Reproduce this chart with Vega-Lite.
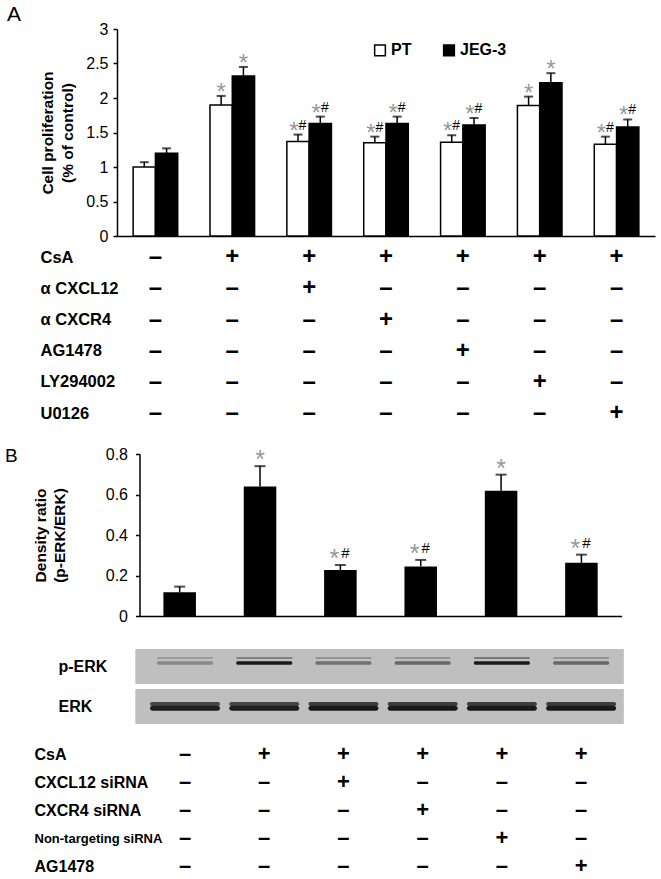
{
  "$schema": "https://vega.github.io/schema/vega-lite/v6.json",
  "padding": {"left": 5, "top": 4, "right": 5, "bottom": 0},
  "bounds": "flush",
  "spacing": 0,
  "config": {
    "view": {"stroke": null},
    "font": "Liberation Sans",
    "axis": {"grid": false, "labelOverlap": false, "domainColor": "black", "tickColor": "black", "labelColor": "black", "titleColor": "black", "labelFont": "Liberation Sans", "titleFont": "Liberation Sans"}
  },
  "resolve": {"scale": {"x": "independent", "y": "independent", "xOffset": "independent", "fill": "independent", "opacity": "independent"}},
  "datasets": {
    "A": [
      {"grp": "1", "cell": "PT", "value": 1.00, "err": 1.07, "star": "", "hash": ""},
      {"grp": "1", "cell": "JEG-3", "value": 1.20, "err": 1.27, "star": "", "hash": ""},
      {"grp": "2", "cell": "PT", "value": 1.90, "err": 2.03, "star": "*", "hash": ""},
      {"grp": "2", "cell": "JEG-3", "value": 2.32, "err": 2.45, "star": "*", "hash": ""},
      {"grp": "3", "cell": "PT", "value": 1.37, "err": 1.47, "star": "*", "hash": "#"},
      {"grp": "3", "cell": "JEG-3", "value": 1.63, "err": 1.73, "star": "*", "hash": "#"},
      {"grp": "4", "cell": "PT", "value": 1.35, "err": 1.44, "star": "*", "hash": "#"},
      {"grp": "4", "cell": "JEG-3", "value": 1.63, "err": 1.73, "star": "*", "hash": "#"},
      {"grp": "5", "cell": "PT", "value": 1.36, "err": 1.46, "star": "*", "hash": "#"},
      {"grp": "5", "cell": "JEG-3", "value": 1.61, "err": 1.71, "star": "*", "hash": "#"},
      {"grp": "6", "cell": "PT", "value": 1.89, "err": 2.02, "star": "*", "hash": ""},
      {"grp": "6", "cell": "JEG-3", "value": 2.22, "err": 2.36, "star": "*", "hash": ""},
      {"grp": "7", "cell": "PT", "value": 1.33, "err": 1.44, "star": "*", "hash": "#"},
      {"grp": "7", "cell": "JEG-3", "value": 1.58, "err": 1.69, "star": "*", "hash": "#"}
    ],
    "TA": [
      {"row": "CsA", "grp": "1", "sign": "–"}, {"row": "CsA", "grp": "2", "sign": "+"}, {"row": "CsA", "grp": "3", "sign": "+"}, {"row": "CsA", "grp": "4", "sign": "+"}, {"row": "CsA", "grp": "5", "sign": "+"}, {"row": "CsA", "grp": "6", "sign": "+"}, {"row": "CsA", "grp": "7", "sign": "+"},
      {"row": "α CXCL12", "grp": "1", "sign": "–"}, {"row": "α CXCL12", "grp": "2", "sign": "–"}, {"row": "α CXCL12", "grp": "3", "sign": "+"}, {"row": "α CXCL12", "grp": "4", "sign": "–"}, {"row": "α CXCL12", "grp": "5", "sign": "–"}, {"row": "α CXCL12", "grp": "6", "sign": "–"}, {"row": "α CXCL12", "grp": "7", "sign": "–"},
      {"row": "α CXCR4", "grp": "1", "sign": "–"}, {"row": "α CXCR4", "grp": "2", "sign": "–"}, {"row": "α CXCR4", "grp": "3", "sign": "–"}, {"row": "α CXCR4", "grp": "4", "sign": "+"}, {"row": "α CXCR4", "grp": "5", "sign": "–"}, {"row": "α CXCR4", "grp": "6", "sign": "–"}, {"row": "α CXCR4", "grp": "7", "sign": "–"},
      {"row": "AG1478", "grp": "1", "sign": "–"}, {"row": "AG1478", "grp": "2", "sign": "–"}, {"row": "AG1478", "grp": "3", "sign": "–"}, {"row": "AG1478", "grp": "4", "sign": "–"}, {"row": "AG1478", "grp": "5", "sign": "+"}, {"row": "AG1478", "grp": "6", "sign": "–"}, {"row": "AG1478", "grp": "7", "sign": "–"},
      {"row": "LY294002", "grp": "1", "sign": "–"}, {"row": "LY294002", "grp": "2", "sign": "–"}, {"row": "LY294002", "grp": "3", "sign": "–"}, {"row": "LY294002", "grp": "4", "sign": "–"}, {"row": "LY294002", "grp": "5", "sign": "–"}, {"row": "LY294002", "grp": "6", "sign": "+"}, {"row": "LY294002", "grp": "7", "sign": "–"},
      {"row": "U0126", "grp": "1", "sign": "–"}, {"row": "U0126", "grp": "2", "sign": "–"}, {"row": "U0126", "grp": "3", "sign": "–"}, {"row": "U0126", "grp": "4", "sign": "–"}, {"row": "U0126", "grp": "5", "sign": "–"}, {"row": "U0126", "grp": "6", "sign": "–"}, {"row": "U0126", "grp": "7", "sign": "+"}
    ],
    "B": [
      {"lane": "1", "value": 0.117, "err": 0.145, "star": "", "hash": ""},
      {"lane": "2", "value": 0.64, "err": 0.74, "star": "*", "hash": ""},
      {"lane": "3", "value": 0.227, "err": 0.252, "star": "*", "hash": "#"},
      {"lane": "4", "value": 0.245, "err": 0.277, "star": "*", "hash": "#"},
      {"lane": "5", "value": 0.619, "err": 0.698, "star": "*", "hash": ""},
      {"lane": "6", "value": 0.263, "err": 0.303, "star": "*", "hash": "#"}
    ],
    "BLOT": [
      {"blot": "p-ERK", "lane": 1, "sub": "upper", "intensity": 0.2}, {"blot": "p-ERK", "lane": 1, "sub": "lower", "intensity": 0.3},
      {"blot": "p-ERK", "lane": 2, "sub": "upper", "intensity": 0.35}, {"blot": "p-ERK", "lane": 2, "sub": "lower", "intensity": 0.95},
      {"blot": "p-ERK", "lane": 3, "sub": "upper", "intensity": 0.25}, {"blot": "p-ERK", "lane": 3, "sub": "lower", "intensity": 0.45},
      {"blot": "p-ERK", "lane": 4, "sub": "upper", "intensity": 0.25}, {"blot": "p-ERK", "lane": 4, "sub": "lower", "intensity": 0.5},
      {"blot": "p-ERK", "lane": 5, "sub": "upper", "intensity": 0.4}, {"blot": "p-ERK", "lane": 5, "sub": "lower", "intensity": 0.95},
      {"blot": "p-ERK", "lane": 6, "sub": "upper", "intensity": 0.25}, {"blot": "p-ERK", "lane": 6, "sub": "lower", "intensity": 0.5},
      {"blot": "ERK", "lane": 1, "sub": "upper", "intensity": 0.7}, {"blot": "ERK", "lane": 1, "sub": "lower", "intensity": 0.92},
      {"blot": "ERK", "lane": 2, "sub": "upper", "intensity": 0.7}, {"blot": "ERK", "lane": 2, "sub": "lower", "intensity": 0.92},
      {"blot": "ERK", "lane": 3, "sub": "upper", "intensity": 0.75}, {"blot": "ERK", "lane": 3, "sub": "lower", "intensity": 0.95},
      {"blot": "ERK", "lane": 4, "sub": "upper", "intensity": 0.75}, {"blot": "ERK", "lane": 4, "sub": "lower", "intensity": 0.95},
      {"blot": "ERK", "lane": 5, "sub": "upper", "intensity": 0.75}, {"blot": "ERK", "lane": 5, "sub": "lower", "intensity": 0.95},
      {"blot": "ERK", "lane": 6, "sub": "upper", "intensity": 0.75}, {"blot": "ERK", "lane": 6, "sub": "lower", "intensity": 0.95}
    ],
    "BLOTBG": [{"blot": "p-ERK"}, {"blot": "ERK"}],
    "TB": [
      {"row": "CsA", "lane": 1, "sign": "–"}, {"row": "CsA", "lane": 2, "sign": "+"}, {"row": "CsA", "lane": 3, "sign": "+"}, {"row": "CsA", "lane": 4, "sign": "+"}, {"row": "CsA", "lane": 5, "sign": "+"}, {"row": "CsA", "lane": 6, "sign": "+"},
      {"row": "CXCL12 siRNA", "lane": 1, "sign": "–"}, {"row": "CXCL12 siRNA", "lane": 2, "sign": "–"}, {"row": "CXCL12 siRNA", "lane": 3, "sign": "+"}, {"row": "CXCL12 siRNA", "lane": 4, "sign": "–"}, {"row": "CXCL12 siRNA", "lane": 5, "sign": "–"}, {"row": "CXCL12 siRNA", "lane": 6, "sign": "–"},
      {"row": "CXCR4 siRNA", "lane": 1, "sign": "–"}, {"row": "CXCR4 siRNA", "lane": 2, "sign": "–"}, {"row": "CXCR4 siRNA", "lane": 3, "sign": "–"}, {"row": "CXCR4 siRNA", "lane": 4, "sign": "+"}, {"row": "CXCR4 siRNA", "lane": 5, "sign": "–"}, {"row": "CXCR4 siRNA", "lane": 6, "sign": "–"},
      {"row": "Non-targeting siRNA", "lane": 1, "sign": "–"}, {"row": "Non-targeting siRNA", "lane": 2, "sign": "–"}, {"row": "Non-targeting siRNA", "lane": 3, "sign": "–"}, {"row": "Non-targeting siRNA", "lane": 4, "sign": "–"}, {"row": "Non-targeting siRNA", "lane": 5, "sign": "+"}, {"row": "Non-targeting siRNA", "lane": 6, "sign": "–"},
      {"row": "AG1478", "lane": 1, "sign": "–"}, {"row": "AG1478", "lane": 2, "sign": "–"}, {"row": "AG1478", "lane": 3, "sign": "–"}, {"row": "AG1478", "lane": 4, "sign": "–"}, {"row": "AG1478", "lane": 5, "sign": "–"}, {"row": "AG1478", "lane": 6, "sign": "+"}
    ]
  },
  "vconcat": [
    {
      "width": 538,
      "height": 207,
      "title": {"text": "A", "anchor": "start", "frame": "group", "dx": -110, "offset": -4, "fontSize": 21, "fontWeight": "normal", "color": "black"},
      "data": {"name": "A"},
      "encoding": {
        "x": {"field": "grp", "type": "ordinal", "scale": {"paddingInner": 0.42, "paddingOuter": 0.21}, "axis": {"title": null, "labels": false, "ticks": false, "domainWidth": 1.5}},
        "xOffset": {"field": "cell", "type": "nominal", "sort": ["PT", "JEG-3"], "scale": {"paddingInner": 0, "paddingOuter": 0}},
        "y": {"field": "value", "type": "quantitative", "scale": {"domain": [0, 3], "nice": false},
          "axis": {"values": [0, 0.5, 1, 1.5, 2, 2.5, 3], "labelExpr": "format(datum.value, '~g')", "labelOverlap": false, "labelFontSize": 16, "labelPadding": 5, "tickSize": 4, "tickWidth": 1.5, "domainWidth": 1.5,
            "title": ["Cell proliferation", "(% of control)"], "titleFontSize": 15.5, "titleFontWeight": "bold", "titleLineHeight": 20.5, "titlePadding": 10}}
      },
      "layer": [
        {
          "mark": {"type": "bar", "stroke": "black", "strokeWidth": 1.5},
          "encoding": {
            "fill": {"field": "cell", "type": "nominal", "sort": ["PT", "JEG-3"], "scale": {"domain": ["PT", "JEG-3"], "range": ["white", "black"]},
              "legend": {"orient": "none", "legendX": 255, "legendY": 13, "direction": "horizontal", "title": null, "padding": 0, "symbolType": "square", "symbolSize": 115, "symbolStrokeColor": "black", "symbolStrokeWidth": 1.5, "labelFontSize": 16, "labelFontWeight": "bold", "labelColor": "black", "labelOffset": 3, "columnPadding": 28}}
          }
        },
        {
          "mark": {"type": "rule", "color": "black", "strokeWidth": 1.5},
          "encoding": {"y2": {"field": "err"}}
        },
        {
          "mark": {"type": "tick", "color": "black", "thickness": 2, "size": 9},
          "encoding": {"y": {"field": "err", "type": "quantitative"}}
        },
        {
          "transform": [{"filter": "datum.star == '*' && datum.hash == ''"}],
          "mark": {"type": "text", "fontSize": 24, "color": "#999999", "baseline": "alphabetic", "dy": 4},
          "encoding": {"y": {"field": "err", "type": "quantitative"}, "text": {"field": "star"}}
        },
        {
          "transform": [{"filter": "datum.hash == '#'"}],
          "mark": {"type": "text", "fontSize": 24, "color": "#999999", "baseline": "alphabetic", "dy": 4, "dx": -4},
          "encoding": {"y": {"field": "err", "type": "quantitative"}, "text": {"field": "star"}}
        },
        {
          "transform": [{"filter": "datum.hash == '#'"}],
          "mark": {"type": "text", "fontSize": 14, "color": "black", "baseline": "alphabetic", "dy": -5, "dx": 4.5},
          "encoding": {"y": {"field": "err", "type": "quantitative"}, "text": {"field": "hash"}}
        }
      ]
    },
    {
      "width": 538,
      "height": 218,
      "data": {"name": "TA"},
      "mark": {"type": "text", "fontSize": 24, "fontWeight": "bold", "color": "black"},
      "encoding": {
        "x": {"field": "grp", "type": "ordinal", "scale": {"paddingInner": 0.42, "paddingOuter": 0.21}, "axis": null},
        "y": {"field": "row", "type": "nominal", "sort": ["CsA", "α CXCL12", "α CXCR4", "AG1478", "LY294002", "U0126"], "scale": {"type": "point", "padding": 1.259, "align": 0.342},
          "axis": {"title": null, "domain": false, "ticks": false, "labelAlign": "left", "labelPadding": 77, "labelFontSize": 16.5, "labelFontWeight": "bold"}},
        "text": {"field": "sign"}
      }
    },
    {
      "width": 504.6,
      "height": 162,
      "title": {"text": "B", "anchor": "start", "frame": "group", "dx": -112, "offset": -20, "fontSize": 19, "fontWeight": "normal", "color": "black"},
      "data": {"name": "B"},
      "encoding": {
        "x": {"field": "lane", "type": "ordinal", "scale": {"range": [22.5, 504.6], "paddingInner": 0.595, "paddingOuter": 0.2975}, "axis": {"title": null, "labels": false, "ticks": false, "domainWidth": 1.5}},
        "y": {"field": "value", "type": "quantitative", "scale": {"domain": [0, 0.8], "nice": false},
          "axis": {"offset": -22.5, "values": [0, 0.2, 0.4, 0.6, 0.8], "labelExpr": "format(datum.value, '~g')", "labelOverlap": false, "labelFontSize": 16, "labelPadding": 8, "tickSize": 4, "tickWidth": 1.5, "domainWidth": 1.5,
            "title": ["Density ratio", "(p-ERK/ERK)"], "titleFontSize": 15.5, "titleFontWeight": "bold", "titleLineHeight": 18.5, "titlePadding": 38}}
      },
      "layer": [
        {
          "mark": {"type": "bar", "color": "black"}
        },
        {
          "mark": {"type": "rule", "color": "black", "strokeWidth": 1.5},
          "encoding": {"y2": {"field": "err"}}
        },
        {
          "mark": {"type": "tick", "color": "black", "thickness": 2, "size": 11},
          "encoding": {"y": {"field": "err", "type": "quantitative"}}
        },
        {
          "transform": [{"filter": "datum.star == '*' && datum.hash == ''"}],
          "mark": {"type": "text", "fontSize": 25, "color": "#999999", "baseline": "alphabetic", "dy": 2},
          "encoding": {"y": {"field": "err", "type": "quantitative"}, "text": {"field": "star"}}
        },
        {
          "transform": [{"filter": "datum.hash == '#'"}],
          "mark": {"type": "text", "fontSize": 25, "color": "#999999", "baseline": "alphabetic", "dy": 2, "dx": -6},
          "encoding": {"y": {"field": "err", "type": "quantitative"}, "text": {"field": "star"}}
        },
        {
          "transform": [{"filter": "datum.hash == '#'"}],
          "mark": {"type": "text", "fontSize": 15, "color": "black", "baseline": "alphabetic", "dy": -7, "dx": 5},
          "encoding": {"y": {"field": "err", "type": "quantitative"}, "text": {"field": "hash"}}
        }
      ]
    },
    {
      "width": 504.6,
      "height": 123,
      "encoding": {
        "y": {"field": "blot", "type": "nominal", "sort": ["p-ERK", "ERK"], "scale": {"paddingInner": 0.125, "paddingOuter": 0.6, "align": 0.6875},
          "axis": {"title": null, "domain": false, "ticks": false, "labelAlign": "left", "labelPadding": 59, "labelFontSize": 16, "labelFontWeight": "bold"}}
      },
      "layer": [
        {
          "data": {"name": "BLOTBG"},
          "mark": {"type": "rect", "color": "#bfbfbf"},
          "encoding": {
            "x": {"datum": 0.3725, "type": "quantitative", "scale": {"domain": [0.1414, 6.511], "nice": false, "zero": false}, "axis": null},
            "x2": {"datum": 6.539}
          }
        },
        {
          "data": {"name": "BLOT"},
          "transform": [{"filter": "datum.blot == 'p-ERK' && datum.sub == 'upper'"}],
          "mark": {"type": "tick", "orient": "horizontal", "color": "#111111", "size": 56, "thickness": 2, "cornerRadius": 1},
          "encoding": {
            "x": {"field": "lane", "type": "quantitative"},
            "y": {"field": "blot", "type": "nominal", "bandPosition": 0.257},
            "opacity": {"field": "intensity", "type": "quantitative", "scale": {"domain": [0, 1], "range": [0, 1]}, "legend": null}
          }
        },
        {
          "data": {"name": "BLOT"},
          "transform": [{"filter": "datum.blot == 'p-ERK' && datum.sub == 'lower'"}],
          "mark": {"type": "tick", "orient": "horizontal", "color": "#111111", "size": 56, "thickness": 3.5, "cornerRadius": 1.5},
          "encoding": {
            "x": {"field": "lane", "type": "quantitative"},
            "y": {"field": "blot", "type": "nominal", "bandPosition": 0.4},
            "opacity": {"field": "intensity", "type": "quantitative", "legend": null}
          }
        },
        {
          "data": {"name": "BLOT"},
          "transform": [{"filter": "datum.blot == 'ERK' && datum.sub == 'upper'"}],
          "mark": {"type": "tick", "orient": "horizontal", "color": "#111111", "size": 70, "thickness": 4, "cornerRadius": 2},
          "encoding": {
            "x": {"field": "lane", "type": "quantitative"},
            "y": {"field": "blot", "type": "nominal", "bandPosition": 0.43},
            "opacity": {"field": "intensity", "type": "quantitative", "legend": null}
          }
        },
        {
          "data": {"name": "BLOT"},
          "transform": [{"filter": "datum.blot == 'ERK' && datum.sub == 'lower'"}],
          "mark": {"type": "tick", "orient": "horizontal", "color": "#111111", "size": 70, "thickness": 5, "cornerRadius": 2.5},
          "encoding": {
            "x": {"field": "lane", "type": "quantitative"},
            "y": {"field": "blot", "type": "nominal", "bandPosition": 0.55},
            "opacity": {"field": "intensity", "type": "quantitative", "legend": null}
          }
        }
      ]
    },
    {
      "width": 504.6,
      "height": 140,
      "data": {"name": "TB"},
      "mark": {"type": "text", "fontSize": 22, "fontWeight": "bold", "color": "black"},
      "encoding": {
        "x": {"field": "lane", "type": "quantitative", "scale": {"domain": [0.1414, 6.511], "nice": false, "zero": false}, "axis": null},
        "y": {"field": "row", "type": "nominal", "sort": ["CsA", "CXCL12 siRNA", "CXCR4 siRNA", "Non-targeting siRNA", "AG1478"], "scale": {"type": "point", "padding": 0.5, "align": 0.536},
          "axis": {"title": null, "domain": false, "ticks": false, "labelAlign": "left", "labelPadding": 83, "labelFontWeight": "bold",
            "labelFontSize": {"condition": {"test": "datum.value == 'Non-targeting siRNA'", "value": 13}, "value": 16}}},
        "text": {"field": "sign"}
      }
    }
  ]
}
